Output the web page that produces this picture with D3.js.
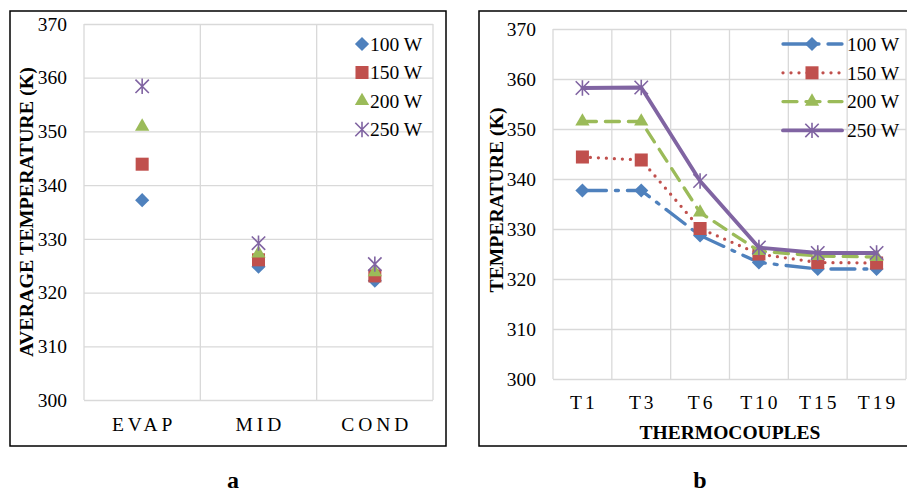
<!DOCTYPE html>
<html>
<head>
<meta charset="utf-8">
<script src="https://cdn.jsdelivr.net/npm/d3@7"></script>
<style>
  body { margin: 0; background: #fff; }
  svg { display: block; }
  text { font-family: "Liberation Serif", "Times New Roman", serif; fill: #000; }
</style>
</head>
<body>
<svg id="chart" width="907" height="492"></svg>
<script>
// Data
let seriesNames = ['100 W', '150 W', '200 W', '250 W'];
let yTicks = [300, 310, 320, 330, 340, 350, 360, 370];

// chart a: average temperature per section
let sections = ['EVAP', 'MID', 'COND'];
let avg100 = [337.2, 324.8, 322.2];
let avg150 = [343.9, 326.1, 323.1];
let avg200 = [350.9, 327.3, 323.8];
let avg250 = [358.4, 329.2, 325.3];

// chart b: temperature per thermocouple
let thermocouples = ['T1', 'T3', 'T6', 'T10', 'T15', 'T19'];
let tc100 = [337.7, 337.7, 328.7, 323.3, 322.0, 322.0];
let tc150 = [344.4, 343.8, 330.1, 325.0, 323.3, 323.2];
let tc200 = [351.5, 351.5, 333.3, 325.6, 324.6, 324.4];
let tc250 = [358.2, 358.3, 339.6, 326.3, 325.2, 325.2];

let avgSeries = [avg100, avg150, avg200, avg250];
let tcSeries = [tc100, tc150, tc200, tc250];

// Styles
let colors = ['#4F81BD', '#C0504D', '#9BBB59', '#8064A2'];
let dashes = ['24,9,3,9', '0,8', '14,9', null];
let gridColor = '#d9d9d9';

let svg = d3.select('#chart');

// asterisk marker like the spreadsheet one (X plus a vertical bar)
let symbolStar = {
  draw(ctx, size) {
    let r = Math.sqrt(size) / 2;
    ctx.moveTo(-r, -r); ctx.lineTo(r, r);
    ctx.moveTo(-r, r); ctx.lineTo(r, -r);
    ctx.moveTo(0, -r * 1.15); ctx.lineTo(0, r * 1.15);
  }
};

function drawMarker(g, i, cx, cy) {
  if (i === 0) {
    g.append('path')
      .attr('d', d3.symbol(d3.symbolSquare, 100)())
      .attr('transform', `translate(${cx},${cy}) rotate(45)`)
      .attr('fill', colors[i]);
  } else if (i === 1) {
    g.append('path')
      .attr('d', d3.symbol(d3.symbolSquare, 170)())
      .attr('transform', `translate(${cx},${cy})`)
      .attr('fill', colors[i]);
  } else if (i === 2) {
    g.append('path')
      .attr('d', d3.symbol(d3.symbolTriangle, 88)())
      .attr('transform', `translate(${cx},${cy})`)
      .attr('fill', colors[i]);
  } else {
    g.append('path')
      .attr('d', d3.symbol(symbolStar, 180)())
      .attr('transform', `translate(${cx},${cy})`)
      .attr('fill', 'none')
      .attr('stroke', colors[i])
      .attr('stroke-width', 1.6);
  }
}

function drawGrid(x, y, cats) {
  let g = svg.append('g');
  let [x0, x1] = x.range();
  // horizontal gridlines + tick labels
  let yAxis = g.append('g')
    .attr('transform', `translate(${x0},0)`)
    .call(d3.axisLeft(y).tickValues(yTicks).tickFormat(d3.format('d'))
      .tickSize(-(x1 - x0)).tickPadding(17));
  yAxis.select('.domain').remove();
  yAxis.selectAll('line').attr('stroke', gridColor).attr('stroke-width', 1.3);
  yAxis.selectAll('text')
    .style('font-family', '"Liberation Serif", serif')
    .style('font-size', '19.5px')
    .attr('fill', '#000');
  // vertical gridlines at band edges
  let edges = cats.map(c => x(c)).concat([x1]);
  g.selectAll('line.vgrid')
    .data(edges)
    .enter()
    .append('line')
    .attr('class', 'vgrid')
    .attr('x1', d => d).attr('x2', d => d)
    .attr('y1', y(370)).attr('y2', y(300))
    .attr('stroke', gridColor)
    .attr('stroke-width', 1.3);
  return g;
}

// ---------- chart a ----------
let xa = d3.scaleBand().domain(sections).range([84, 433]);
let ya = d3.scaleLinear().domain([300, 370]).range([400, 24]);

svg.append('rect')
  .attr('x', 10).attr('y', 11).attr('width', 436).attr('height', 435)
  .attr('fill', 'none').attr('stroke', '#000').attr('stroke-width', 1.5);

drawGrid(xa, ya, sections);

svg.append('g').selectAll('text')
  .data(sections)
  .enter()
  .append('text')
  .attr('x', d => xa(d) + xa.bandwidth() / 2 + 2)
  .attr('y', 431)
  .attr('text-anchor', 'middle')
  .style('font-size', '19.5px')
  .style('letter-spacing', '4px')
  .text(d => d);

let ga = svg.append('g');
avgSeries.forEach((vals, i) => {
  vals.forEach((v, j) => {
    drawMarker(ga, i, xa(sections[j]) + xa.bandwidth() / 2, ya(v));
  });
});

// legend a
seriesNames.forEach((name, i) => {
  let ly = 44 + i * 28.5;
  drawMarker(ga, i, 362, ly);
  ga.append('text')
    .attr('x', 370).attr('y', ly).attr('dy', '0.35em')
    .style('font-size', '19.5px')
    .text(name);
});

svg.append('text')
  .attr('transform', 'translate(33,212) rotate(-90)')
  .attr('text-anchor', 'middle')
  .attr('textLength', 290)
  .attr('lengthAdjust', 'spacingAndGlyphs')
  .style('font-size', '19.5px')
  .style('font-weight', 'bold')
  .text('AVERAGE TEMPERATURE (K)');

svg.append('text')
  .attr('x', 233).attr('y', 488)
  .attr('text-anchor', 'middle')
  .style('font-size', '24px')
  .style('font-weight', 'bold')
  .text('a');

// ---------- chart b ----------
let xb = d3.scaleBand().domain(thermocouples).range([553, 906]);
let yb = d3.scaleLinear().domain([300, 370]).range([379, 29]);

svg.append('rect')
  .attr('x', 479).attr('y', 11).attr('width', 432).attr('height', 435)
  .attr('fill', 'none').attr('stroke', '#000').attr('stroke-width', 1.5);

drawGrid(xb, yb, thermocouples);

svg.append('g').selectAll('text')
  .data(thermocouples)
  .enter()
  .append('text')
  .attr('x', d => xb(d) + xb.bandwidth() / 2 + 1.5)
  .attr('y', 409)
  .attr('text-anchor', 'middle')
  .style('font-size', '19.5px')
  .style('letter-spacing', '3px')
  .text(d => d);

let line = d3.line()
  .x((d, j) => xb(thermocouples[j]) + xb.bandwidth() / 2)
  .y(d => yb(d));

let gb = svg.append('g');
tcSeries.forEach((vals, i) => {
  gb.append('path')
    .datum(vals)
    .attr('d', line)
    .attr('fill', 'none')
    .attr('stroke', colors[i])
    .attr('stroke-width', i === 3 ? 3.8 : 3.3)
    .attr('stroke-linecap', 'round')
    .attr('stroke-linejoin', 'round')
    .attr('stroke-dasharray', dashes[i]);
  vals.forEach((v, j) => {
    drawMarker(gb, i, xb(thermocouples[j]) + xb.bandwidth() / 2, yb(v));
  });
});

// legend b
seriesNames.forEach((name, i) => {
  let ly = 44 + i * 28.8;
  gb.append('line')
    .attr('x1', 783).attr('x2', 842).attr('y1', ly).attr('y2', ly)
    .attr('stroke', colors[i])
    .attr('stroke-width', i === 3 ? 3.8 : 3.3)
    .attr('stroke-linecap', 'round')
    .attr('stroke-dasharray', dashes[i]);
  drawMarker(gb, i, 812, ly);
  gb.append('text')
    .attr('x', 847).attr('y', ly).attr('dy', '0.35em')
    .style('font-size', '19.5px')
    .text(name);
});

svg.append('text')
  .attr('transform', 'translate(503,200) rotate(-90)')
  .attr('text-anchor', 'middle')
  .attr('textLength', 185)
  .attr('lengthAdjust', 'spacingAndGlyphs')
  .style('font-size', '19.5px')
  .style('font-weight', 'bold')
  .text('TEMPERATURE (K)');

svg.append('text')
  .attr('x', 730).attr('y', 439)
  .attr('text-anchor', 'middle')
  .style('font-size', '19.5px')
  .style('font-weight', 'bold')
  .text('THERMOCOUPLES');

svg.append('text')
  .attr('x', 700).attr('y', 488)
  .attr('text-anchor', 'middle')
  .style('font-size', '24px')
  .style('font-weight', 'bold')
  .text('b');
</script>
</body>
</html>
